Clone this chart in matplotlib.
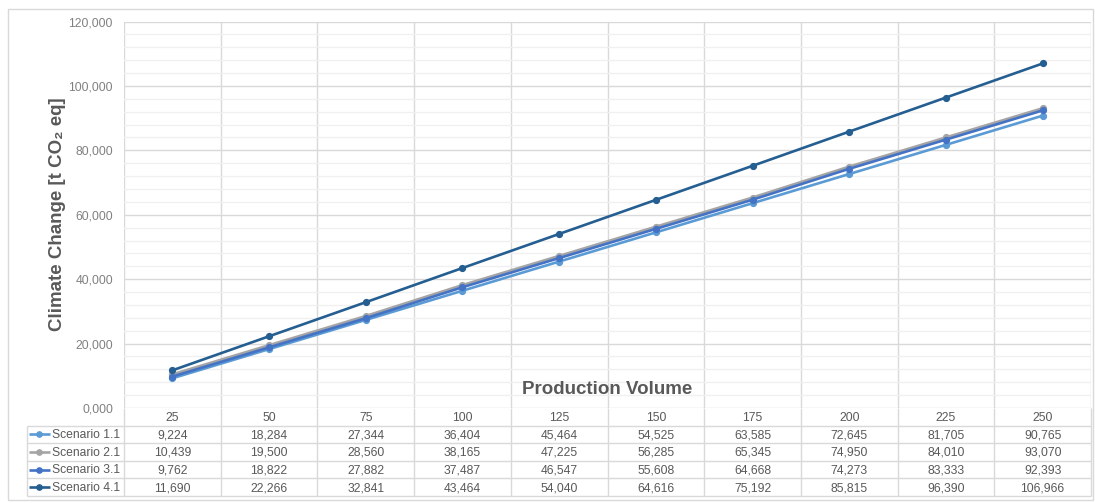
import numpy as np
import matplotlib
matplotlib.use("Agg")
import matplotlib.pyplot as plt
from matplotlib.ticker import FuncFormatter, MultipleLocator
from matplotlib.patches import Rectangle

plt.rcParams["font.family"] = ["Liberation Sans", "DejaVu Sans"]

# ---- data -------------------------------------------------------------
production_volume = [25, 50, 75, 100, 125, 150, 175, 200, 225, 250]
scenario_names = ["Scenario 1.1", "Scenario 2.1", "Scenario 3.1", "Scenario 4.1"]
scenario_1_1 = [9224, 18284, 27344, 36404, 45464, 54525, 63585, 72645, 81705, 90765]
scenario_2_1 = [10439, 19500, 28560, 38165, 47225, 56285, 65345, 74950, 84010, 93070]
scenario_3_1 = [9762, 18822, 27882, 37487, 46547, 55608, 64668, 74273, 83333, 92393]
scenario_4_1 = [11690, 22266, 32841, 43464, 54040, 64616, 75192, 85815, 96390, 106966]
series = [scenario_1_1, scenario_2_1, scenario_3_1, scenario_4_1]
colors = ["#5B9BD5", "#A5A5A5", "#4472C4", "#255E91"]

y_max = 120000
y_major = 20000
y_minor = 4000

# ---- layout (pixels) --------------------------------------------------
W, H = 1095, 503
plot_l, plot_r, plot_t, plot_b = 124, 1091, 21.5, 408
table_b = 496
legend_l = 27

grid_major = "#D9D9D9"
grid_minor = "#F0F0F0"
tick_color = "#808080"
text_color = "#595959"
fs = 8.7

fig = plt.figure(figsize=(W / 100, H / 100), dpi=100)
fig.patch.set_facecolor("white")

# outer chart border
fig.add_artist(Rectangle((8 / W, 1 - 500 / H), (1093 - 8) / W, (500 - 9) / H,
                         transform=fig.transFigure, fill=False,
                         edgecolor=grid_major, linewidth=1))

ax = fig.add_axes([plot_l / W, 1 - plot_b / H, (plot_r - plot_l) / W,
                   (plot_b - plot_t) / H])
n = len(production_volume)
x = np.arange(n)
ax.set_xlim(-0.5, n - 0.5)
ax.set_ylim(0, y_max)

for s, c in zip(series, colors):
    ax.plot(x, s, color=c, linewidth=1.9, marker="o", markersize=4.2,
            markeredgecolor=c, markerfacecolor=c, zorder=3)

for sp in ax.spines.values():
    sp.set_visible(False)

ax.set_xticks([])
ax.set_xticks(np.arange(-0.5, n, 1), minor=True)
ax.yaxis.set_major_locator(MultipleLocator(y_major))
ax.yaxis.set_minor_locator(MultipleLocator(y_minor))
ax.yaxis.set_major_formatter(FuncFormatter(
    lambda v, p: "0,000" if v == 0 else f"{v:,.0f}"))
ax.tick_params(axis="both", which="both", length=0)
ax.tick_params(axis="y", labelsize=fs, labelcolor=tick_color, pad=8)
ax.xaxis.grid(True, which="minor", color=grid_major, linewidth=1)
ax.yaxis.grid(True, which="minor", color=grid_minor, linewidth=1)
ax.yaxis.grid(True, which="major", color=grid_major, linewidth=1)
ax.set_axisbelow(True)
for gl in ax.xaxis.get_minorticklines():
    gl.set_visible(False)

# axis titles
fig.text(57 / W, 1 - 214 / H, "Climate Change [t CO₂ eq]", rotation=90,
         ha="center", va="center", fontsize=13.5, fontweight="bold",
         color=text_color)
ax.text((plot_l + plot_r) / 2 / W, 1 - 390 / H, "Production Volume",
        transform=fig.transFigure, ha="center", va="center",
        fontsize=13.5, fontweight="bold", color=text_color, zorder=4)

# ---- data table ---------------------------------------------------------
tax = fig.add_axes([plot_l / W, 1 - table_b / H, (plot_r - plot_l) / W,
                    (table_b - plot_b) / H])
tax.set_xlim(-0.5, n - 0.5)
tax.set_ylim(len(series) + 1, 0)
tax.axis("off")

col_px = (plot_r - plot_l) / n


def px_to_x(px):
    return -0.5 + (px - plot_l) / col_px


x_leg = px_to_x(legend_l)
rows = len(series) + 1

# horizontal borders
for r in range(1, rows + 1):
    tax.plot([x_leg, n - 0.5], [r, r], color=grid_major, linewidth=1,
             clip_on=False, solid_capstyle="butt")
# vertical borders
for b in np.arange(-0.5, n, 1):
    tax.plot([b, b], [0, rows], color=grid_major, linewidth=1,
             clip_on=False, solid_capstyle="butt")
tax.plot([x_leg, x_leg], [1, rows], color=grid_major, linewidth=1,
         clip_on=False, solid_capstyle="butt")

# header row: category labels
for i, pv in enumerate(production_volume):
    tax.text(i, 0.55, str(pv), ha="center", va="center", fontsize=fs,
             color=text_color)

# series rows
for r, (name, s, c) in enumerate(zip(scenario_names, series, colors), start=1):
    yc = r + 0.55
    k0, k1 = px_to_x(29), px_to_x(50)
    tax.plot([k0, k1], [r + 0.5, r + 0.5], color=c, linewidth=1.9,
             clip_on=False, solid_capstyle="butt")
    tax.plot([(k0 + k1) / 2], [r + 0.5], marker="o", markersize=3.8,
             color=c, clip_on=False)
    tax.text(px_to_x(52), yc, name, ha="left", va="center", fontsize=fs,
             color=text_color, clip_on=False)
    for i, v in enumerate(s):
        tax.text(i, yc, f"{v:,}", ha="center", va="center", fontsize=fs,
                 color=text_color)

fig.savefig("out.png", dpi=100)
